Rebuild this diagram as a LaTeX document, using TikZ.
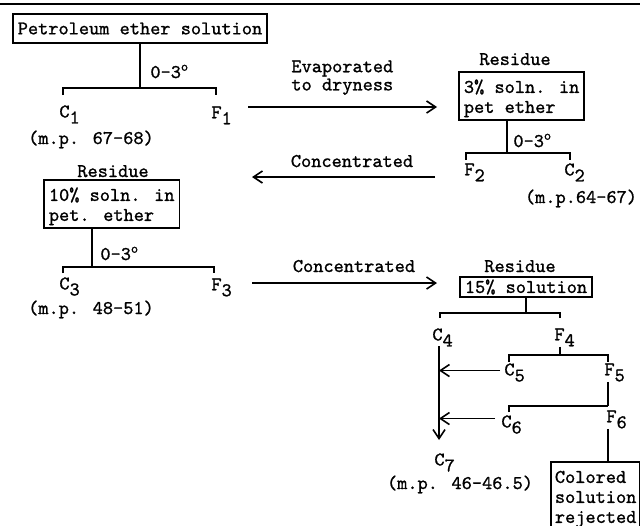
\documentclass[tikz,border=0pt]{standalone}
\usepackage{fontspec}
\newfontfamily\typew{lmmono10-regular.otf}[FakeBold=1]
\usetikzlibrary{positioning, arrows.meta, calc}
\newcommand{\sbx}[1]{\raisebox{-3pt}{#1}}
\newcommand{\dgr}{\textsuperscript{o}}
\newcommand{\tall}{\rule{0pt}{9pt}}

\begin{document}
\begin{tikzpicture}[x=0.5pt, y=-0.5pt,
    every node/.style={font=\fontsize{9.7}{10}\selectfont\typew},
    box/.style={draw, line width=0.9pt, inner xsep=2.5pt, inner ysep=1.5pt, align=left},
    sym/.style={inner sep=0pt, anchor=north west},
    note/.style={inner sep=0pt, anchor=base},
    link/.style={line width=0.9pt},
    arr/.style={-{Straight Barb[length=4.5pt, width=6pt]}, line width=0.8pt},
]
\useasboundingbox (0,0) rectangle (640,525);
\clip (0,0) rectangle (640,525);
\draw[line width=0.7pt] (0,4) -- (640,4);

% first separation
\node[box, minimum height=14.5pt] (petsol) at (140,28.5) {Petroleum ether solution};
\coordinate (s1) at (140,88);
\coordinate (c1t) at (63,95);
\coordinate (f1t) at (216,95);
\node[note, anchor=base west] (t1) at (150,78) {0-3\dgr};
\node[sym] (C1) at (59,105) {C\sbx{1}};
\node[sym] (F1) at (211,106) {F\sbx{1}};
\node[note] (mp1) at (91,144) {(m.p. 67-68)};
\draw[link] (petsol) -- (s1);
\draw[link] (c1t) |- (s1) -| (f1t);

% F1 taken to dryness
\node[note, anchor=north west, align=left, font=\fontsize{9.7}{8}\selectfont\typew] (evap) at (291,60) {Evaporated\\to dryness};
\coordinate (e1a) at (248,107);
\coordinate (e1b) at (437,107);
\draw[arr] (e1a) -- (e1b);

% second separation
\node[box, anchor=north west] (sol3) at (458,71) {\tall 3\% soln. in\\pet ether};
\node[note] (res1) at (515,65) {Residue};
\coordinate (s2) at (507,153);
\coordinate (f2t) at (466,160);
\coordinate (c2t) at (570,160);
\node[note, anchor=base west] (t2) at (513,147) {0-3\dgr};
\node[sym] (F2) at (464,163) {F\sbx{2}};
\node[sym] (C2) at (564,163) {C\sbx{2}};
\node[note] (mp2) at (581,203) {(m.p.64-67)};
\draw[link] (s2 |- sol3.south) -- (s2);
\draw[link] (f2t) |- (s2) -| (c2t);

\node[note] (conc1) at (352,167) {Concentrated};
\coordinate (k1a) at (435,177);
\coordinate (k1b) at (252,177);
\draw[arr] (k1a) -- (k1b);

% third separation
\node[box, anchor=north west] (sol10) at (43,179) {\tall 10\% soln. in\\pet. ether};
\node[note] (res2) at (113,177) {Residue};
\coordinate (s3) at (92,267);
\coordinate (c3t) at (63,273);
\coordinate (f3t) at (214,273);
\node[note, anchor=base west] (t3) at (100,260) {0-3\dgr};
\node[sym] (C3) at (59,277) {C\sbx{3}};
\node[sym] (F3) at (211,278) {F\sbx{3}};
\node[note] (mp3) at (91,314) {(m.p. 48-51)};
\draw[link] (s3 |- sol10.south) -- (s3);
\draw[link] (c3t) |- (s3) -| (f3t);

\node[note] (conc2) at (354,272) {Concentrated};
\coordinate (k2a) at (252,283);
\coordinate (k2b) at (437,283);
\draw[arr] (k2a) -- (k2b);

% 15% solution and its fractions
\node[box, inner ysep=0pt, minimum height=10pt] (sol15) at (526,287) {15\% solution};
\node[note] (res3) at (520,272) {Residue};
\coordinate (s4) at (526,313);
\coordinate (c4t) at (440,318);
\coordinate (f4t) at (560,318);
\node[sym] (C4) at (432,328) {C\sbx{4}};
\node[sym] (F4) at (554,328) {F\sbx{4}};
\draw[link] (s4 |- sol15.south) -- (s4);
\draw[link] (c4t) |- (s4) -| (f4t);

\coordinate (s5) at (560,355);
\coordinate (c5t) at (509,362);
\coordinate (f5t) at (608,362);
\node[sym] (C5) at (504,363) {C\sbx{5}};
\node[sym] (F5) at (604,363) {F\sbx{5}};
\draw[link] (F4.south -| s5) -- (s5);
\draw[link] (c5t) |- (s5) -| (f5t);

\coordinate (s6) at (608,406);
\coordinate (c6t) at (509,412);
\node[sym] (C6) at (501,415) {C\sbx{6}};
\node[sym] (F6) at (606,410) {F\sbx{6}};
\draw[link] (F5.south -| s6) -- (s6);
\draw[link] (c6t) |- (s6);

\node[box, anchor=north west, inner xsep=2pt] (rej) at (550,461) {\tall Colored\\solution\\rejected};
\draw[link] (F6.south -| s6) -- (s6 |- rej.north);

% C4, C5 and C6 combined
\coordinate (trunk) at (439,346);
\coordinate (trunkend) at (439,440);
\node[sym] (C7) at (434,453) {C\sbx{7}};
\node[note] (mp7) at (460,489) {(m.p. 46-46.5)};
\coordinate (c5a) at ([shift={(-2pt,1pt)}]C5.west);
\coordinate (c6a) at ([shift={(-3pt,3pt)}]C6.west);
\draw[arr] (trunk) -- (trunkend);
\draw[arr] (c5a) -- (c5a -| trunk);
\draw[arr] (c6a) -- (c6a -| trunk);
\end{tikzpicture}
\end{document}
